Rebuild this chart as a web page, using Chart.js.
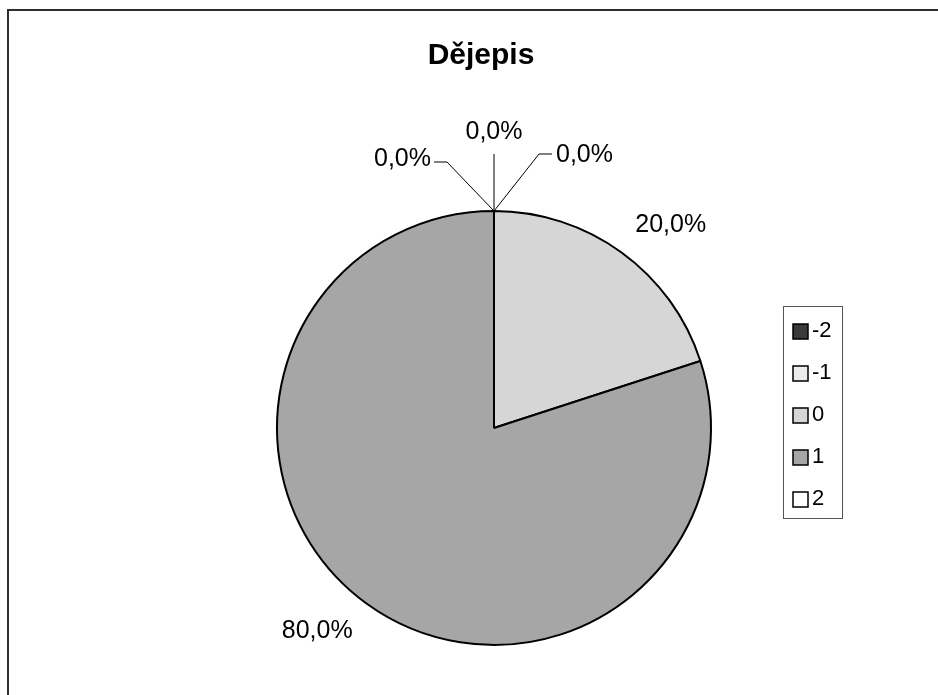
<!DOCTYPE html>
<html>
<head>
<meta charset="utf-8">
<title>Dějepis</title>
<script src="https://cdn.jsdelivr.net/npm/chart.js@4.4.1/dist/chart.umd.min.js"></script>
<style>
  html, body { margin: 0; padding: 0; background: #fff; overflow: hidden; }
  #wrap { position: relative; width: 938px; height: 695px; }
  #frame {
    position: absolute; left: 7px; top: 9px; width: 980px; height: 740px;
    border: 2px solid #2e2e2e; box-sizing: border-box; pointer-events: none;
  }
  canvas { position: absolute; left: 0; top: 0; }
</style>
</head>
<body>
<div id="wrap">
  <canvas id="pie" width="938" height="695"></canvas>
  <div id="frame"></div>
</div>
<script>
// Grades and their share of students (%)
const chartTitle = "Dějepis";
const categories = ["-2", "-1", "0", "1", "2"];
const shares = [0, 0, 20, 80, 0];
const sliceColors = ["#3a3a3a", "#ececec", "#d6d6d6", "#a6a6a6", "#ffffff"];

const FONT = "'Liberation Sans', Arial, sans-serif";

function fmtPct(v) {
  return v.toFixed(1).replace(".", ",") + "%";
}

// Title, boxed legend and percentage labels with leader lines
const excelDecor = {
  id: "excelDecor",
  afterDraw(chart) {
    const ctx = chart.ctx;
    const meta = chart.getDatasetMeta(0);
    const values = chart.data.datasets[0].data;
    const colors = chart.data.datasets[0].backgroundColor;

    ctx.save();

    // title
    ctx.fillStyle = "#000";
    ctx.font = "bold 30px " + FONT;
    ctx.textAlign = "center";
    ctx.textBaseline = "alphabetic";
    ctx.fillText(chartTitle, 481, 64);

    // data labels
    ctx.font = "25px " + FONT;
    ctx.strokeStyle = "#000";
    ctx.lineWidth = 1;
    const fan = [
      { ex: -47, ey: -49, hx: -13, align: "right", dy: -3 },
      { ex: 0, ey: -57, hx: 0, align: "center", dy: -22 },
      { ex: 45, ey: -57, hx: 13, align: "left", dy: 1 }
    ];
    let z = 0;
    meta.data.forEach((arc, i) => {
      const p = arc.getProps(["x", "y", "startAngle", "endAngle", "outerRadius"], true);
      const label = fmtPct(values[i]);
      if (values[i] === 0) {
        const f = fan[z++ % fan.length];
        const ax = p.x + Math.cos(p.startAngle) * p.outerRadius;
        const ay = p.y + Math.sin(p.startAngle) * p.outerRadius;
        const ex = ax + f.ex, ey = ay + f.ey;
        ctx.beginPath();
        ctx.moveTo(ax, ay);
        ctx.lineTo(ex, ey);
        ctx.lineTo(ex + f.hx, ey);
        ctx.stroke();
        ctx.textBaseline = "middle";
        ctx.textAlign = f.align;
        const gap = f.align === "right" ? -3 : f.align === "left" ? 4 : 0;
        ctx.fillText(label, ex + f.hx + gap, ey + f.dy);
      } else {
        // slightly clockwise of the slice middle, outside the rim
        const mid = (p.startAngle + p.endAngle) / 2 + 0.045;
        const r = p.outerRadius + 31;
        const w = ctx.measureText(label).width;
        const cx = p.x + Math.cos(mid) * r + Math.cos(mid) * w / 2;
        const cy = p.y + Math.sin(mid) * r + Math.sin(mid) * 12;
        ctx.textAlign = "center";
        ctx.textBaseline = "middle";
        ctx.fillText(label, cx, cy);
      }
    });

    // legend
    const lx = 783, ly = 306, lw = 59, lh = 212;
    ctx.strokeStyle = "#555";
    ctx.lineWidth = 1;
    ctx.strokeRect(lx + 0.5, ly + 0.5, lw, lh);
    ctx.font = "22px " + FONT;
    ctx.textAlign = "left";
    ctx.textBaseline = "middle";
    categories.forEach((c, i) => {
      const cy = 331 + i * 42;
      ctx.fillStyle = colors[i];
      ctx.fillRect(793, cy - 7, 15, 15);
      ctx.strokeStyle = "#000";
      ctx.lineWidth = 1.5;
      ctx.strokeRect(793, cy - 7, 15, 15);
      ctx.fillStyle = "#000";
      ctx.fillText(c, 812, cy);
    });

    ctx.restore();
  }
};

new Chart(document.getElementById("pie").getContext("2d"), {
  type: "pie",
  data: {
    labels: categories,
    datasets: [{
      data: shares,
      backgroundColor: sliceColors,
      borderColor: "#000",
      borderWidth: 2,
      hoverOffset: 0
    }]
  },
  options: {
    responsive: false,
    animation: false,
    events: [],
    layout: { padding: { left: 276, right: 226, top: 210, bottom: 49 } },
    plugins: {
      legend: { display: false },
      title: { display: false },
      tooltip: { enabled: false }
    }
  },
  plugins: [excelDecor]
});
</script>
</body>
</html>
